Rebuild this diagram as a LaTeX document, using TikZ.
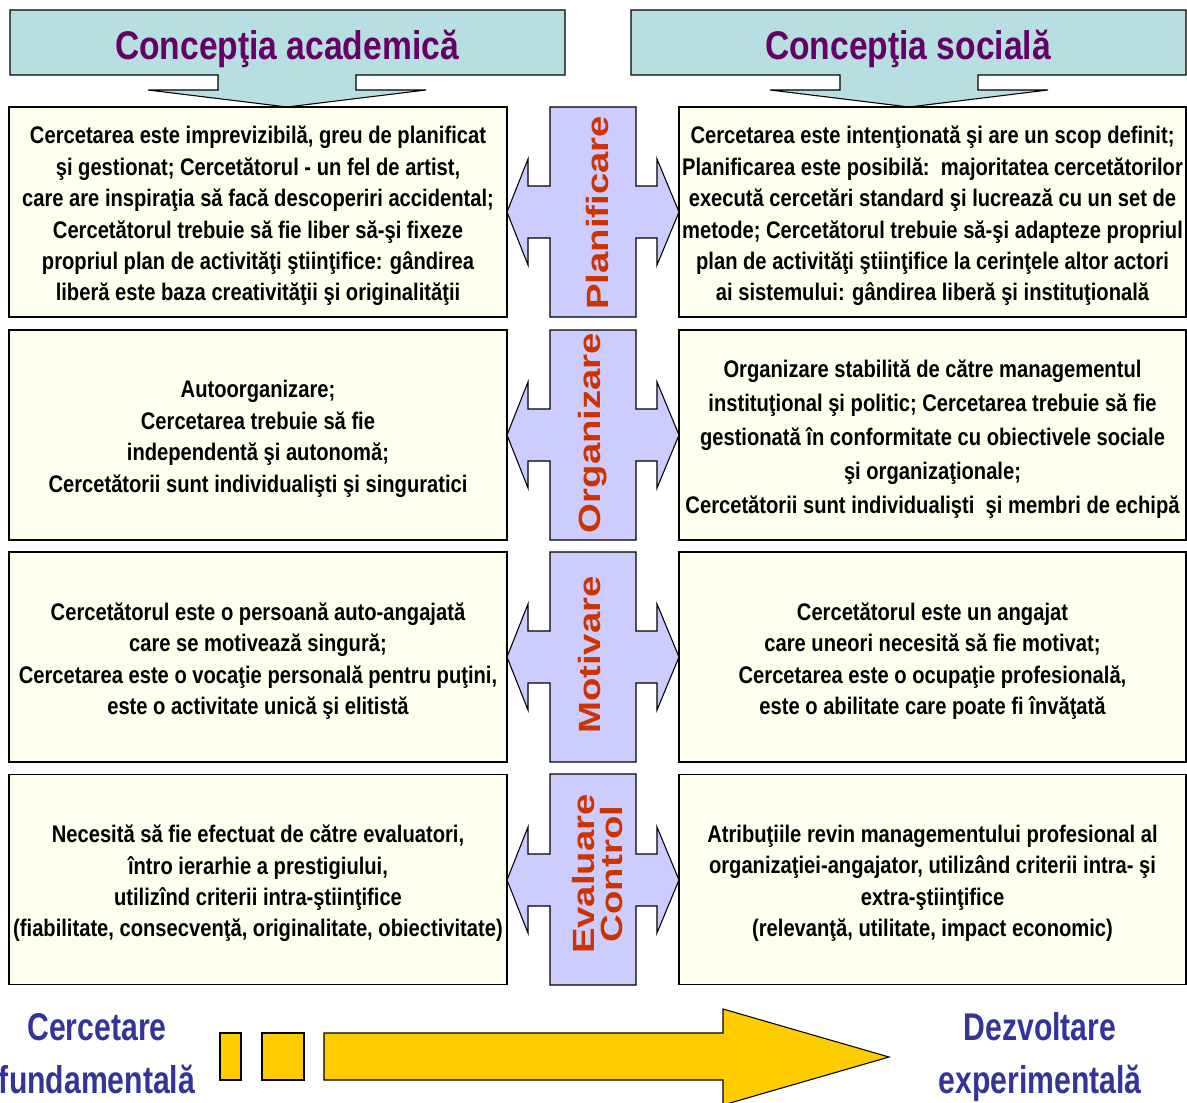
\documentclass[tikz,border=0pt]{standalone}
\usepackage{fontspec}
\setmainfont{Liberation Sans}
\newfontfamily\narrowf{Liberation Sans}[FakeStretch=0.84]
\newfontfamily\narrowb{Liberation Sans}[FakeStretch=0.78]
\newfontfamily\widef{Liberation Sans}[FakeStretch=1.25]
\definecolor{titlefill}{RGB}{183,222,224}
\definecolor{titletext}{RGB}{102,0,102}
\definecolor{boxfill}{RGB}{255,255,238}
\definecolor{crossfill}{RGB}{204,204,255}
\definecolor{crosstext}{RGB}{204,51,0}
\definecolor{goldfill}{RGB}{255,204,0}
\definecolor{labelblue}{RGB}{51,51,153}
\tikzset{
  outline/.style={draw=black,line width=0.8pt,line join=miter},
  titleshape/.style={outline,fill=titlefill},
  titlelabel/.style={text=titletext,font=\narrowf\bfseries\fontsize{30}{34}\selectfont,inner sep=0pt},
  lbox/.style={outline,fill=boxfill,minimum width=373.5pt,minimum height=157.5pt,inner sep=0pt},
  rbox/.style={lbox,minimum width=380.25pt},
  boxtext/.style={inner sep=0pt,align=center,yshift=-3pt,
    font=\narrowf\bfseries\fontsize{18}{23.6}\selectfont},
  crossshape/.style={outline,fill=crossfill},
  crosslabel/.style={rotate=90,text=crosstext,font=\widef\bfseries\fontsize{23}{21}\selectfont,inner sep=0pt,align=center},
  goldshape/.style={outline,fill=goldfill},
  endlabel/.style={text=labelblue,font=\narrowb\bfseries\fontsize{29}{39.75}\selectfont,inner sep=0pt,align=center}
}
\newcommand{\crossat}[3]{%
  \path[crossshape] (550,#1) -- (636,#1) -- (636,#3-26) -- (657,#3-26) -- (657,#3-53) -- (679,#3)
    -- (657,#3+53) -- (657,#3+26) -- (636,#3+26) -- (636,#2) -- (550,#2) -- (550,#3+26)
    -- (528,#3+26) -- (528,#3+53) -- (507,#3) -- (528,#3-53) -- (528,#3-26) -- (550,#3-26) -- cycle;}
\begin{document}
\begin{tikzpicture}[x=0.75pt,y=-0.75pt]
\useasboundingbox[fill=white] (0,0) rectangle (1187,1102);

% title callouts
\path[titleshape] (10,10) -- (565,10) -- (565,75) -- (356,75) -- (356,90) -- (426,90) -- (287,107)
  -- (148,90) -- (218,90) -- (218,75) -- (10,75) -- cycle;
\path[titleshape] (631,10) -- (1186,10) -- (1186,75) -- (978,75) -- (978,90) -- (1048,90) -- (909,107)
  -- (770,90) -- (840,90) -- (840,75) -- (631,75) -- cycle;
\node[titlelabel] (tA) at (287,49) {Concepţia academică};
\node[titlelabel] (tS) at (908,49) {Concepţia socială};

% boxes
\node[lbox] (l1) at (258,212) {};
\node[lbox] (l2) at (258,435) {};
\node[lbox] (l3) at (258,657) {};
\node[lbox] (l4) at (258,879.5) {};
\node[rbox] (r1) at (932.5,212) {};
\node[rbox] (r2) at (932.5,435) {};
\node[rbox] (r3) at (932.5,657) {};
\node[rbox] (r4) at (932.5,879.5) {};

% left texts
\node[boxtext] (tl1) at (l1.center) {Cercetarea este imprevizibilă, greu de planificat\\
şi gestionat; Cercetătorul - un fel de artist,\\
care are inspiraţia să facă descoperiri accidental;\\
Cercetătorul trebuie să fie liber să-şi fixeze\\
propriul plan de activităţi ştiinţifice: gândirea\\
liberă este baza creativităţii şi originalităţii};
\node[boxtext] (tl2) at (l2.center) {Autoorganizare;\\
Cercetarea trebuie să fie\\
independentă şi autonomă;\\
Cercetătorii sunt individualişti şi singuratici};
\node[boxtext] (tl3) at (l3.center) {Cercetătorul este o persoană auto-angajată\\
care se motivează singură;\\
Cercetarea este o vocaţie personală pentru puţini,\\
este o activitate unică şi elitistă};
\node[boxtext] (tl4) at (l4.center) {Necesită să fie efectuat de către evaluatori,\\
întro ierarhie a prestigiului,\\
utilizînd criterii intra-ştiinţifice\\
(fiabilitate, consecvenţă, originalitate, obiectivitate)};

% right texts
\node[boxtext] (tr1) at (r1.center) {Cercetarea este intenţionată şi are un scop definit;\\
Planificarea este posibilă:\ \ majoritatea cercetătorilor\\
execută cercetări standard şi lucrează cu un set de\\
metode; Cercetătorul trebuie să-şi adapteze propriul\\
plan de activităţi ştiinţifice la cerinţele altor actori\\
ai sistemului: gândirea liberă şi instituţională};
\node[boxtext,font=\narrowf\bfseries\fontsize{18}{25.5}\selectfont] (tr2) at (r2.center) {Organizare stabilită de către managementul\\
instituţional şi politic; Cercetarea trebuie să fie\\
gestionată în conformitate cu obiectivele sociale\\
şi organizaţionale;\\
Cercetătorii sunt individualişti\ \ şi membri de echipă};
\node[boxtext] (tr3) at (r3.center) {Cercetătorul este un angajat\\
care uneori necesită să fie motivat;\\
Cercetarea este o ocupaţie profesională,\\
este o abilitate care poate fi învăţată};
\node[boxtext] (tr4) at (r4.center) {Atribuţiile revin managementului profesional al\\
organizaţiei-angajator, utilizând criterii intra- şi\\
extra-ştiinţifice\\
(relevanţă, utilitate, impact economic)};

% central double arrows
\crossat{107}{317}{212}
\crossat{330}{540}{435}
\crossat{552}{762}{657}
\crossat{774}{985}{880}
\node[crosslabel] (c1) at (598,213) {Planificare};
\node[crosslabel] (c2) at (593,433) {Organizare};
\node[crosslabel] (c3) at (590,655) {Motivare};
\node[crosslabel] (c4) at (597.5,874) {Evaluare\\Control};

% bottom arrow
\path[goldshape] (220,1033) rectangle (241,1080);
\path[goldshape] (262,1033) rectangle (304,1080);
\path[goldshape] (324,1033) -- (723,1033) -- (723,1009) -- (889,1057) -- (723,1105) -- (723,1080) -- (324,1080) -- cycle;
\node[endlabel] (cf) at (97,1054) {Cercetare\\fundamentală};
\node[endlabel] (de) at (1040,1057) {Dezvoltare\\experimentală};
\end{tikzpicture}
\end{document}
